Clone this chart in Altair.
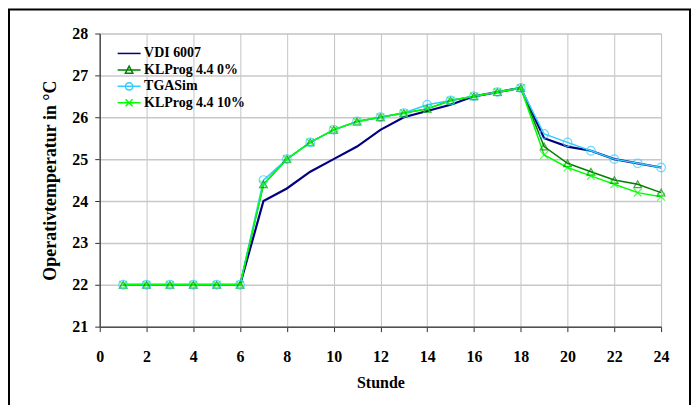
import altair as alt
import pandas as pd

hours = list(range(1, 25))
series_names = ["VDI 6007", "KLProg 4.4 0%", "TGASim", "KLProg 4.4 10%"]
vdi = [22, 22, 22, 22, 22, 22, 24.0, 24.3, 24.7, 25.0, 25.3, 25.7, 26.0, 26.15, 26.3, 26.5, 26.6, 26.7,
       25.5, 25.3, 25.2, 25.0, 24.9, 24.8]
klp0 = [22, 22, 22, 22, 22, 22, 24.4, 25.0, 25.4, 25.7, 25.9, 26.0, 26.1, 26.2, 26.4, 26.5, 26.6, 26.7,
        25.3, 24.9, 24.7, 24.5, 24.4, 24.2]
tga = [22, 22, 22, 22, 22, 22, 24.5, 25.0, 25.4, 25.7, 25.9, 26.0, 26.1, 26.3, 26.4, 26.5, 26.6, 26.7,
       25.6, 25.4, 25.2, 25.0, 24.9, 24.8]
klp10 = [22, 22, 22, 22, 22, 22, 24.4, 25.0, 25.4, 25.7, 25.9, 26.0, 26.1, 26.2, 26.4, 26.5, 26.6, 26.7,
         25.1, 24.8, 24.6, 24.4, 24.2, 24.1]
x_ticks = list(range(0, 25))
y_ticks = list(range(21, 29))

colors = ["#000080", "#008000", "#33CCFF", "#00FF00"]
legend_paths = [
    "M-1.92,0L1.92,0",
    "M-1.92,0L1.92,0M-0.62,0.55L0,-0.62L0.62,0.55Z",
    "M-1.92,0L1.92,0M-0.62,0A0.62,0.62 0 1,0 0.62,0A0.62,0.62 0 1,0 -0.62,0",
    "M-1.92,0L1.92,0M-0.58,-0.58L0.58,0.58M-0.58,0.58L0.58,-0.58",
]
marker_shapes = {"KLProg 4.4 0%": "triangle-up", "TGASim": "circle",
                 "KLProg 4.4 10%": "M-1,-1L1,1M-1,1L1,-1"}

rows = []
for name, vals in zip(series_names, [vdi, klp0, tga, klp10]):
    for h, v in zip(hours, vals):
        rows.append({"hour": h, "temp": v, "series": name})
df = pd.DataFrame(rows)

FONT = "Liberation Serif"
color_scale = alt.Scale(domain=series_names, range=colors)

leg = alt.Legend(
    orient="none", legendX=22.5, legendY=13, title=None,
    labelFont=FONT, labelFontSize=14, labelFontWeight="bold", labelColor="black",
    symbolSize=144, symbolStrokeWidth=1.5, symbolOpacity=1, symbolFillColor="transparent",
    labelOffset=8, rowPadding=2.5, padding=0,
)

x_enc = alt.X(
    "hour:Q",
    scale=alt.Scale(domain=[0, 24], nice=False),
    title="Stunde",
    axis=alt.Axis(
        values=x_ticks,
        labelExpr="datum.value % 2 === 0 ? datum.label : ''",
        tickSize={"condition": {"test": "datum.value % 2 === 1", "value": 3}, "value": 5},
        gridOpacity={"condition": {"test": "datum.value % 2 === 1", "value": 0}, "value": 1},
        gridColor="#c4c4c4", gridWidth=1,
        domainColor="#505050", domainWidth=1.5, tickColor="#303030", tickWidth=1,
        labelFont=FONT, labelFontSize=16, labelFontWeight="bold", labelColor="black",
        labelPadding=17, labelFlush=False, labelOverlap=False,
        titleFont=FONT, titleFontSize=16, titleFontWeight="bold", titleColor="black",
        titlePadding=10,
    ),
)
y_enc = alt.Y(
    "temp:Q",
    scale=alt.Scale(domain=[21, 28], nice=False),
    title="Operativtemperatur in °C",
    axis=alt.Axis(
        values=y_ticks,
        gridColor="#c8c8c8", gridWidth=1.5,
        domainColor="#505050", domainWidth=1.5, tickColor="#303030", tickWidth=1, tickSize=5,
        labelFont=FONT, labelFontSize=16, labelFontWeight="bold", labelColor="black",
        labelPadding=7, labelFlush=False,
        titleFont=FONT, titleFontSize=18, titleFontWeight="bold", titleColor="black",
        titlePadding=12,
    ),
)

base = alt.Chart(df)

lines = base.mark_line().encode(
    x=x_enc, y=y_enc,
    stroke=alt.Stroke("series:N", scale=color_scale, legend=leg),
    strokeWidth=alt.condition("datum.series === 'VDI 6007'", alt.value(2.2), alt.value(1.5)),
    order="hour:Q",
)

marker_layers = []
for name, shp in marker_shapes.items():
    marker_layers.append(
        base.transform_filter(alt.datum.series == name)
        .mark_point(shape=shp, filled=False, size=60 if shp != "circle" else 75, strokeWidth=1.2)
        .encode(x="hour:Q", y="temp:Q",
                stroke=alt.Stroke("series:N", scale=color_scale, legend=leg))
    )

legend_layer = base.mark_point(filled=False, opacity=0).encode(
    x="hour:Q", y="temp:Q",
    stroke=alt.Stroke("series:N", scale=color_scale, legend=leg),
    shape=alt.Shape("series:N", scale=alt.Scale(domain=series_names, range=legend_paths), legend=leg),
)

frame = alt.Chart(pd.DataFrame({"frame": [1]})).mark_rect(
    filled=False, stroke="black", strokeWidth=2
).encode(x=alt.value(-91), x2=alt.value(592), y=alt.value(-24), y2=alt.value(440))

chart = alt.layer(lines, *marker_layers, legend_layer, frame).properties(
    width=563, height=294,
    autosize=alt.AutoSizeParams(type="none"),
    padding={"left": 92, "top": 25, "right": 30, "bottom": 78},
).configure_view(stroke="#999999", strokeWidth=1.5).configure(background="white")

chart.save("out.html", embed_options={"renderer": "svg", "actions": False})
